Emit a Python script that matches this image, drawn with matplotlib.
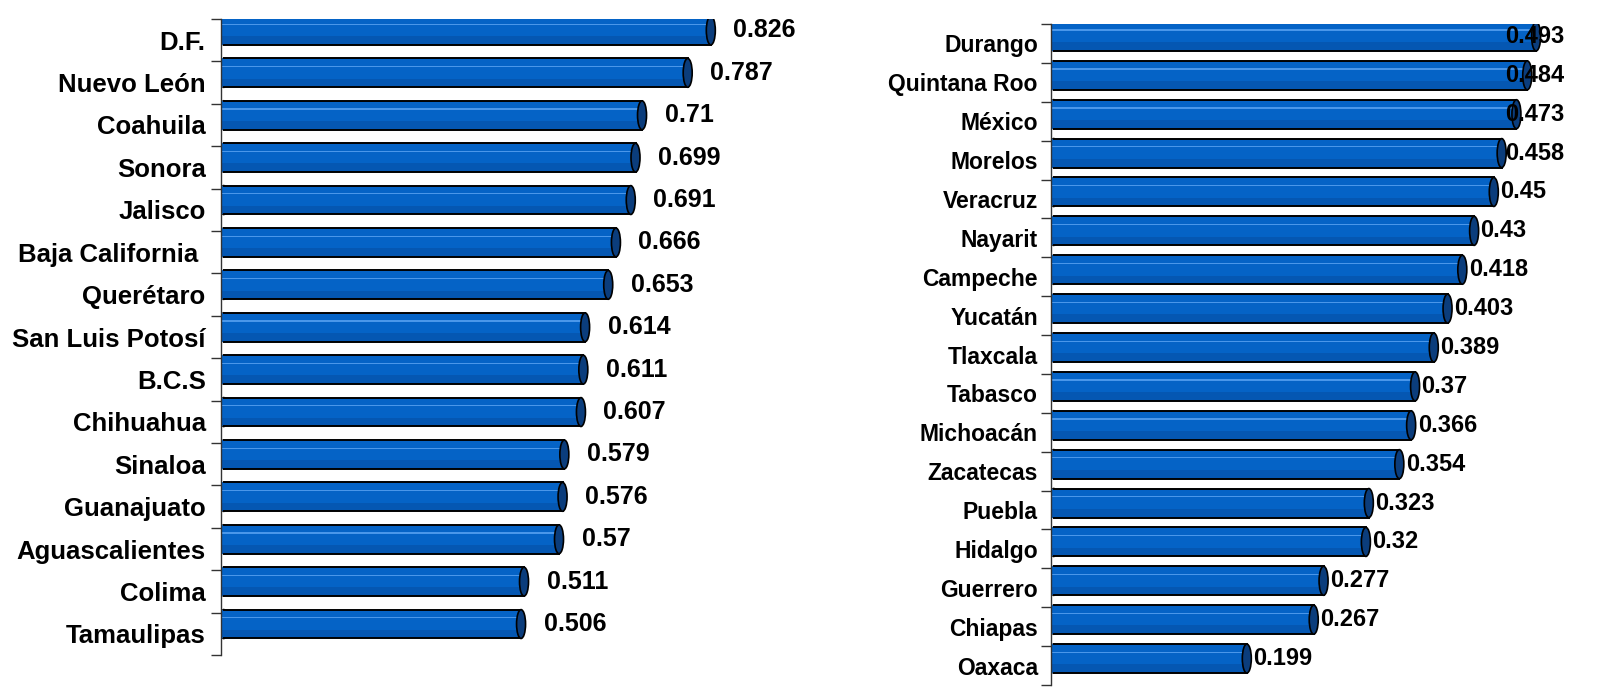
import numpy as np
import matplotlib
matplotlib.use("Agg")
import matplotlib.pyplot as plt
from matplotlib.patches import Ellipse, Rectangle
from matplotlib.ticker import FixedLocator, NullLocator

plt.rcParams['font.family'] = ['Liberation Sans', 'DejaVu Sans']
plt.rcParams['font.weight'] = 'bold'

# ---------------- datos ----------------
left_states = ['D.F.', 'Nuevo León', 'Coahuila', 'Sonora', 'Jalisco',
               'Baja California ', 'Querétaro', 'San Luis Potosí', 'B.C.S',
               'Chihuahua', 'Sinaloa', 'Guanajuato', 'Aguascalientes',
               'Colima', 'Tamaulipas']
left_values = [0.826, 0.787, 0.71, 0.699, 0.691, 0.666, 0.653, 0.614, 0.611,
               0.607, 0.579, 0.576, 0.57, 0.511, 0.506]

right_states = ['Durango', 'Quintana Roo', 'México', 'Morelos', 'Veracruz',
                'Nayarit', 'Campeche', 'Yucatán', 'Tlaxcala', 'Tabasco',
                'Michoacán', 'Zacatecas', 'Puebla', 'Hidalgo', 'Guerrero',
                'Chiapas', 'Oaxaca']
right_values = [0.493, 0.484, 0.473, 0.458, 0.45, 0.43, 0.418, 0.403, 0.389,
                0.37, 0.366, 0.354, 0.323, 0.32, 0.277, 0.267, 0.199]

W, H = 1611, 700
fig = plt.figure(figsize=(W / 100, H / 100), dpi=100)
fig.patch.set_facecolor('white')

BODY = '#0563C6'
LIGHT = '#4A97EA'
DARK = '#0557B2'
CAP = '#0B3D7C'


def panel(rect, states, values, xmax, bar_h, shift, cat_fs, val_fs, pad, off_px, clamp_px=None):
    ax = fig.add_axes(rect)
    n = len(states)
    ax.set_xlim(0, xmax)
    ax.set_ylim(n - 0.5, -0.5)
    for s in ['top', 'right', 'bottom']:
        ax.spines[s].set_visible(False)
    ax.spines['left'].set_color('#333333')
    ax.spines['left'].set_linewidth(1.0)
    ax.xaxis.set_major_locator(NullLocator())
    ax.yaxis.set_major_locator(FixedLocator(np.arange(n)))
    ax.yaxis.set_minor_locator(FixedLocator(np.arange(n + 1) - 0.5))
    ax.set_yticklabels(states, fontsize=cat_fs, fontweight='bold')
    ax.tick_params(axis='y', which='major', length=0, pad=pad)
    ax.tick_params(axis='y', which='minor', length=7, width=1.0, color='#333333')

    px_per_unit = rect[2] * W / xmax
    cap_w = 9 / px_per_unit
    y = np.arange(n) - shift
    for yi, v in zip(y, values):
        # cuerpo del cilindro
        ax.add_patch(Rectangle((0, yi - bar_h / 2), v, bar_h, facecolor=BODY,
                               edgecolor='none', zorder=2))
        ax.add_patch(Rectangle((0, yi + bar_h * 0.2), v, bar_h * 0.3,
                               facecolor=DARK, edgecolor='none', zorder=2.1))
        ax.add_patch(Rectangle((0, yi - bar_h * 0.24), v, bar_h * 0.045,
                               facecolor=LIGHT, edgecolor='none', zorder=2.2))
        ax.add_patch(Ellipse((0.3 * cap_w, yi), cap_w * 0.8, bar_h, facecolor=BODY,
                             edgecolor='black', linewidth=1.3, zorder=1.5))
        ax.plot([0.3 * cap_w, v], [yi - bar_h / 2, yi - bar_h / 2], color='black', lw=1.4, zorder=3)
        ax.plot([0.3 * cap_w, v], [yi + bar_h / 2, yi + bar_h / 2], color='black', lw=1.4, zorder=3)
        ax.add_patch(Ellipse((v, yi), cap_w, bar_h, facecolor=CAP,
                             edgecolor='black', linewidth=1.2, zorder=4))
        t = ax.text(v + (cap_w / 2) + off_px / px_per_unit, yi, f"{v:g}",
                    fontsize=val_fs, fontweight='bold', va='center', ha='left',
                    zorder=5, clip_on=False)
        if clamp_px is not None:
            fig.canvas.draw()
            bb = t.get_window_extent()
            if bb.x1 > clamp_px:
                t.set_x(v + (cap_w / 2) + off_px / px_per_unit - (bb.x1 - clamp_px) / px_per_unit)
    return ax


# panel izquierdo
panel([221 / W, (H - 655) / H, 600 / W, 636 / H], left_states, left_values,
      600 / 593, 0.68, 0.23, 18.5, 18, 11, 18)

# panel derecho
panel([1051 / W, (H - 685) / H, 545 / W, 661 / H], right_states, right_values,
      545 / 984, 0.745, 0.18, 16.5, 17, 9.5, 2, clamp_px=1564)

fig.savefig('out.png', dpi=100, facecolor='white')
